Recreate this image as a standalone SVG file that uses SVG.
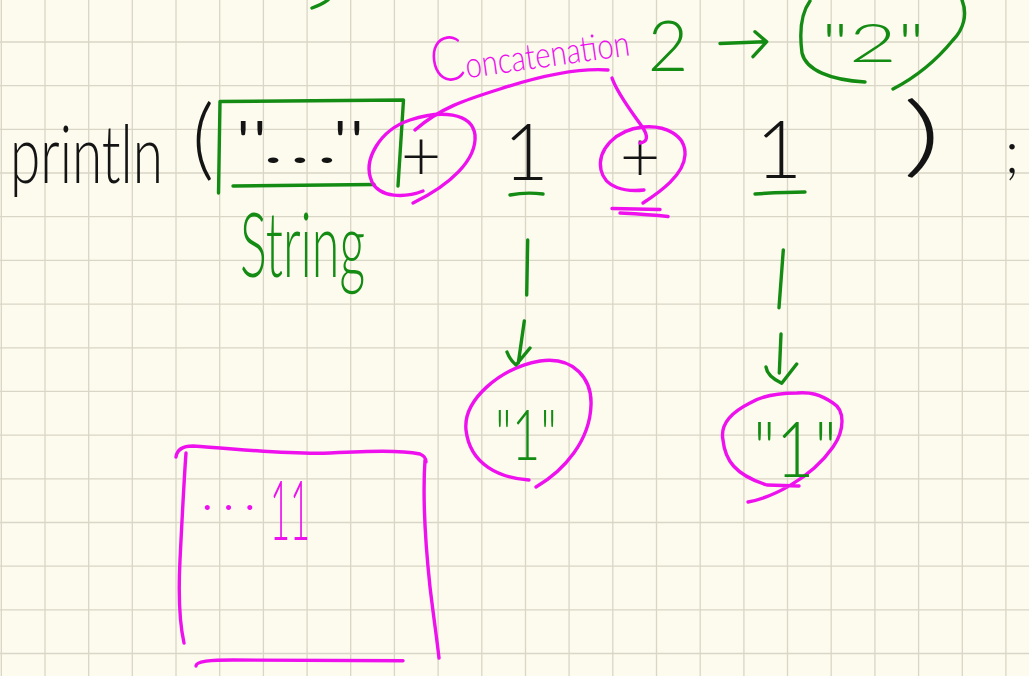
<svg xmlns="http://www.w3.org/2000/svg" width="1029" height="676" viewBox="0 0 1029 676">
  <style>
    .ink { stroke-linecap: round; stroke-linejoin: round; fill: none; stroke-width: 3.4; }
    .k { stroke: #141414; }
    .g { stroke: #148c14; }
    .m { stroke: #ee11ee; }
    text { font-family: "Lato", "Liberation Sans", sans-serif; font-weight: 300; }
    .tk { fill: #141414; }
    .tg { fill: #148c14; }
    .tm { fill: #ee11ee; }
    .grid { stroke: #d9d6c6; stroke-width: 1.3; fill: none; }
  </style>

  <!-- paper -->
  <rect width="1029" height="676" fill="#fdfbee"/>
  <path class="grid" d="M1.3,0V676 M45,0V676 M88.7,0V676 M132.3,0V676 M176,0V676 M219.7,0V676 M263.4,0V676 M307.1,0V676 M350.7,0V676 M394.4,0V676 M438.1,0V676 M481.8,0V676 M525.5,0V676 M569.1,0V676 M612.8,0V676 M656.5,0V676 M700.2,0V676 M743.9,0V676 M787.5,0V676 M831.2,0V676 M874.9,0V676 M918.6,0V676 M962.3,0V676 M1005.9,0V676
    M0,42H1029 M0,85.7H1029 M0,129.4H1029 M0,173H1029 M0,216.7H1029 M0,260.4H1029 M0,304.1H1029 M0,347.8H1029 M0,391.4H1029 M0,435.1H1029 M0,478.8H1029 M0,522.5H1029 M0,566.2H1029 M0,609.8H1029 M0,653.5H1029"/>

  <!-- stray stroke at the top edge -->
  <path class="ink g" d="M312,8 C318,6 324,3 328,0"/>

  <!-- println( ... ); -->
  <g id="call">
    <text class="tk" transform="translate(10 183) scale(0.665 1)" x="0" y="0" font-size="80" textLength="230" lengthAdjust="spacingAndGlyphs">println</text>
    <text class="tk" x="192" y="169" font-size="89" textLength="22" lengthAdjust="spacingAndGlyphs">(</text>
    <text class="tk" x="902" y="166" font-size="89" textLength="40" lengthAdjust="spacingAndGlyphs">)</text>
    <text class="tk" x="1012" y="173" font-size="60" text-anchor="middle">;</text>
  </g>

  <!-- string literal with its label -->
  <g id="string-literal">
    <path class="ink g" d="M218.5,193 L220,101.5 L403.5,100 L398,186 M233,186 L374,184.5"/>
    <text class="tk" x="232" y="163" font-size="60" textLength="136" lengthAdjust="spacingAndGlyphs">"..."</text>
    <text class="tg" x="240" y="277" font-size="90" textLength="125" lengthAdjust="spacingAndGlyphs">String</text>
  </g>

  <!-- first + -->
  <g id="plus-1">
    <path class="ink m" d="M423,191 C405,198 380,198 372,182 C362,160 380,130 410,120 C440,110 472,112 475,135 C477,160 450,185 413,203"/>
    <text class="tk" x="421" y="181" font-size="70" text-anchor="middle">+</text>
  </g>

  <!-- first operand 1 -->
  <g id="one-1">
    <text class="tk" x="526" y="180" font-size="78" text-anchor="middle">1</text>
    <path class="ink g" d="M510,195 C520,193 535,193 543,194"/>
  </g>

  <!-- second + -->
  <g id="plus-2">
    <path class="ink m" d="M644,190 C625,192 605,188 601,170 C597,150 615,130 643,127 C665,125 686,135 685,155 C684,175 660,192 643,203"/>
    <text class="tk" x="640" y="182" font-size="70" text-anchor="middle">+</text>
    <path class="ink m" d="M612,208.5 L660,209.5 M620,213 C640,214 655,215 668,216.5"/>
  </g>

  <!-- second operand 1 -->
  <g id="one-2">
    <text class="tk" x="779" y="178" font-size="80" text-anchor="middle">1</text>
    <path class="ink g" d="M755,194 C770,193 790,192 805,192"/>
  </g>

  <!-- concatenation label -->
  <g id="concat-label">
    <text class="tm" x="433" y="83" font-size="36" font-weight="400" transform="rotate(-8 433 83)" textLength="200" lengthAdjust="spacingAndGlyphs"><tspan font-size="62">C</tspan>oncatenation</text>
  </g>

  <!-- result 2 and its string form -->
  <g id="two">
    <text class="tg" x="668" y="71" font-size="70" text-anchor="middle">2</text>
  </g>
  <g id="two-string">
    <path class="ink g" d="M810,1 C802,12 799,30 802,53 C806,70 830,80 865,82 M962,0 C968,15 963,30 953,40 C940,56 920,75 893,89"/>
    <text class="tg" x="821" y="62" font-size="54" textLength="104" lengthAdjust="spacingAndGlyphs">"2"</text>
  </g>

  <!-- string forms of the operands -->
  <g id="one-string-1">
    <path class="ink m" d="M529,480 C500,478 470,465 466,430 C463,400 500,368 540,361 C575,356 592,380 591,405 C590,440 565,470 536,487"/>
    <text class="tg" x="495" y="460" font-size="70" textLength="62" lengthAdjust="spacingAndGlyphs">"1"</text>
  </g>
  <g id="one-string-2">
    <path class="ink m" d="M748,502 C770,498 810,480 833,447 C845,430 845,410 833,403 C820,394 810,392 797,393 C775,393 760,397 750,403 C730,413 720,425 723,440 C725,460 735,475 767,485 L799,486"/>
    <text class="tg" x="753" y="477" font-size="76" textLength="84" lengthAdjust="spacingAndGlyphs">"1"</text>
  </g>

  <!-- printed result -->
  <g id="output">
    <path class="ink m" d="M176,457 C177,450 183,446 193,446 C240,449 290,455 330,453 C370,451 400,450 420,454 C425,456 426,459 426,462
      M186,453 C184,480 182,520 180,560 C178,600 180,625 184,643
      M425,460 C423,490 425,540 430,587 C434,620 437,640 439,658
      M196,666 C196,661 210,660 233,660 L403,660.7"/>
    <text class="tm" x="201" y="510" font-size="54" textLength="55" lengthAdjust="spacing">...</text>
    <text class="tm" x="270" y="540" font-size="82" textLength="40" lengthAdjust="spacingAndGlyphs">11</text>
  </g>

  <!-- connectors -->
  <g id="connectors">
    <path class="ink m" d="M608,70 C580,68 540,76 500,89 C465,100 440,108 415,130"/>
    <path class="ink m" d="M612,78 C618,95 632,112 643,128 C648,136 648,142 640,143"/>
    <path class="ink g" d="M720,43.5 L766.7,41.7 M755,31.7 L766.7,41.7 L753,56.7"/>
    <path class="ink g" d="M527.7,240 L526.7,295 M524.3,321 L518.3,363 M507,352 Q510,360 516,365 L530,348"/>
    <path class="ink g" d="M783.3,250 L779,307.7 M781,334 L779.3,373 M766,367 Q767,376 781.7,383.3 L796.7,364"/>
  </g>
</svg>
